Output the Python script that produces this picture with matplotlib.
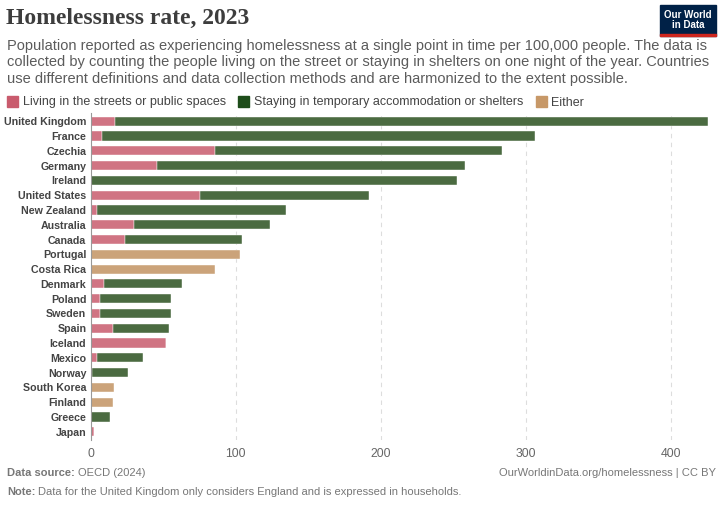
import matplotlib.pyplot as plt
from matplotlib.patches import Rectangle

plt.rcParams['font.family'] = ['Liberation Sans', 'DejaVu Sans']

countries = ['United Kingdom', 'France', 'Czechia', 'Germany', 'Ireland', 'United States',
             'New Zealand', 'Australia', 'Canada', 'Portugal', 'Costa Rica', 'Denmark',
             'Poland', 'Sweden', 'Spain', 'Iceland', 'Mexico', 'Norway', 'South Korea',
             'Finland', 'Greece', 'Japan']
streets = [16.9, 8.1, 85.9, 46.0, 0, 75.5, 4.3, 29.8, 23.8, 0, 0, 9.1,
           6.8, 6.6, 15.3, 52.0, 4.5, 1.3, 0, 0, 0, 2.4]
shelters = [408.7, 298.5, 198.1, 212.0, 253.0, 116.3, 130.3, 94.2, 80.5, 0, 0, 54.2,
            48.7, 48.7, 38.8, 0, 31.7, 24.3, 0, 0, 13.2, 0]
either = [0, 0, 0, 0, 0, 0, 0, 0, 0, 103.0, 85.9, 0,
          0, 0, 0, 0, 0, 0, 16.4, 15.5, 0, 0]
ticks = [0, 100, 200, 300, 400]

c_pink = '#d07483'
c_green = '#4b6b41'
c_tan = '#cba37a'

fig = plt.figure(figsize=(7.2, 5.23), dpi=100)
ax = fig.add_axes([90.5 / 720, 1 - 440 / 523, (708 - 90.5) / 720, (440 - 113) / 523])

y = list(range(len(countries)))
h = 0.62
ax.barh(y, streets, height=h, color=c_pink, edgecolor='white', linewidth=0.3)
ax.barh(y, shelters, left=streets, height=h, color=c_green, edgecolor='white', linewidth=0.3)
ax.barh(y, either, height=h, color=c_tan, edgecolor='white', linewidth=0.3)

ax.set_ylim(len(countries) - 0.45, -0.55)
ax.set_xlim(0, 425.8)
ax.set_yticks(y)
ax.set_yticklabels(countries, fontsize=7.7, fontweight='bold', color='#444444')
ax.set_xticks(ticks)
ax.set_xticklabels([str(t) for t in ticks], fontsize=8.8, color='#666666')
ax.tick_params(axis='y', length=0, pad=3)
ax.tick_params(axis='x', length=0, pad=6)
for s in ['top', 'right', 'bottom']:
    ax.spines[s].set_visible(False)
ax.spines['left'].set_color('#999999')
ax.spines['left'].set_linewidth(0.8)
for t in ticks[1:]:
    ax.axvline(t, color='#dddddd', linestyle=(0, (4, 4)), linewidth=0.8, zorder=0)
ax.set_axisbelow(True)

# header
fig.text(6 / 720, 1 - 18 / 523, 'Homelessness rate, 2023', fontsize=17, family='Liberation Serif',
         fontweight='bold', color='#3d3d3d', va='center', ha='left')
sub = ('Population reported as experiencing homelessness at a single point in time per 100,000 people. The data is\n'
       'collected by counting the people living on the street or staying in shelters on one night of the year. Countries\n'
       'use different definitions and data collection methods and are harmonized to the extent possible.')
fig.text(7 / 720, 1 - 39 / 523, sub, fontsize=10.5, color='#5b5b5b', va='top', ha='left', linespacing=1.22)

# legend
lx = 7
items = [('Living in the streets or public spaces', '#c95b6d'),
         ('Staying in temporary accommodation or shelters', '#1e4d1a'),
         ('Either', '#c79868')]
for label, col in items:
    fig.patches.append(Rectangle((lx / 720, 1 - 107 / 523), 11 / 720, 11 / 523, transform=fig.transFigure,
                                 color=col))
    t = fig.text((lx + 16) / 720, 1 - 105.5 / 523, label, fontsize=9.0, color='#444444', va='baseline')
    fig.canvas.draw()
    bb = t.get_window_extent()
    lx = bb.x1 + 12

# logo
fig.patches.append(Rectangle((660 / 720, 1 - 36 / 523), 56 / 720, 31 / 523, transform=fig.transFigure,
                             color='#002147'))
fig.patches.append(Rectangle((660 / 720, 1 - 36 / 523), 56 / 720, 2 / 523, transform=fig.transFigure,
                             color='#ce261e'))
fig.text(688 / 720, 1 - 20 / 523, 'Our World\nin Data', fontsize=7, color='white', ha='center', va='center',
         fontweight='bold', linespacing=1.0)


# footer
def label_pair(x, ypix, bold, rest):
    b = fig.text(x / 720, 1 - ypix / 523, bold, fontsize=8, color='#777777', va='baseline', fontweight='bold')
    fig.canvas.draw()
    x1 = b.get_window_extent().x1
    fig.text((x1 + 3) / 720, 1 - ypix / 523, rest, fontsize=8, color='#777777', va='baseline')


label_pair(7, 476, 'Data source:', 'OECD (2024)')
fig.text(716 / 720, 1 - 476 / 523, 'OurWorldinData.org/homelessness | CC BY', fontsize=8, color='#777777',
         va='baseline', ha='right')
label_pair(7, 495, 'Note:', 'Data for the United Kingdom only considers England and is expressed in households.')

fig.savefig('out.png', dpi=100)
